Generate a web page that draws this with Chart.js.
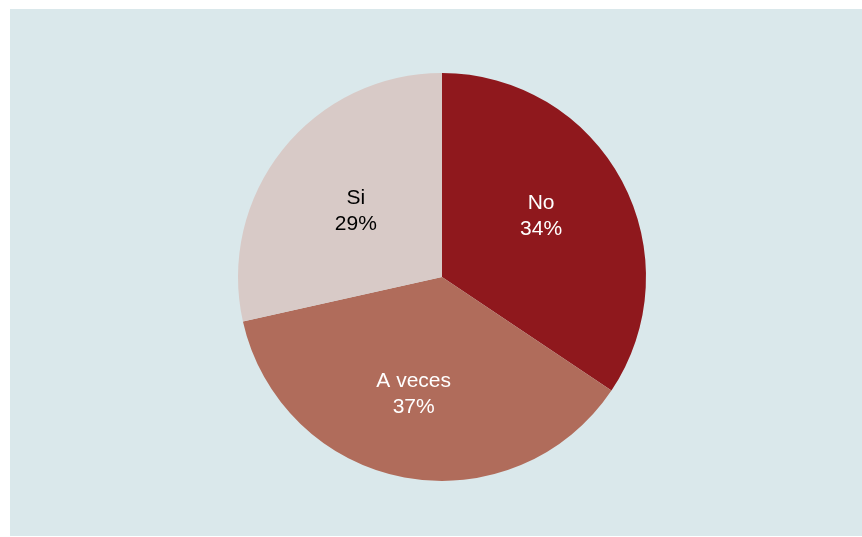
<!DOCTYPE html>
<html>
<head>
<meta charset="utf-8">
<script src="https://cdn.jsdelivr.net/npm/chart.js@4"></script>
<style>
  html, body { margin: 0; padding: 0; background: #ffffff; }
  #panel {
    position: absolute;
    left: 10px;
    top: 9px;
    width: 852px;
    height: 527px;
    background: #dae8eb;
  }
</style>
</head>
<body>
<div id="panel"><canvas id="chart"></canvas></div>
<script>
const categories = ['No', 'A veces', 'Si'];
const shares = [34.4, 37.1, 28.5];
const shareLabels = ['34%', '37%', '29%'];

const sliceColors = ['#8f181d', '#b06c5b', '#d8cac7'];
const textColors = ['#ffffff', '#ffffff', '#000000'];
// label placement tweaks per slice (fraction of radius, angle nudge in deg)
const labelRadius = [0.57, 0.59, 0.53];
const labelNudge = [-3.5, 3, -1.5];

// writes "name / pct" inside each slice
const sliceLabels = {
  id: 'sliceLabels',
  afterDatasetsDraw(chart) {
    const ctx = chart.ctx;
    const arcs = chart.getDatasetMeta(0).data;
    ctx.save();
    ctx.font = '21px "Liberation Sans", Arial, sans-serif';
    ctx.textAlign = 'center';
    ctx.textBaseline = 'middle';
    arcs.forEach((arc, i) => {
      const p = arc.getProps(['x', 'y', 'startAngle', 'endAngle', 'outerRadius']);
      const mid = (p.startAngle + p.endAngle) / 2 + labelNudge[i] * Math.PI / 180;
      const r = p.outerRadius * labelRadius[i];
      const cx = p.x + Math.cos(mid) * r;
      const cy = p.y + Math.sin(mid) * r;
      ctx.fillStyle = textColors[i];
      ctx.fillText(categories[i], cx, cy - 13);
      ctx.fillText(shareLabels[i], cx, cy + 13);
    });
    ctx.restore();
  }
};

new Chart(document.getElementById('chart'), {
  type: 'pie',
  data: {
    labels: categories,
    datasets: [{
      data: shares,
      backgroundColor: sliceColors,
      borderWidth: 0,
    }],
  },
  options: {
    responsive: true,
    maintainAspectRatio: false,
    animation: false,
    layout: {
      padding: { top: 64, bottom: 55, left: 228, right: 216 },
    },
    plugins: {
      legend: { display: false },
      tooltip: { enabled: false },
    },
  },
  plugins: [sliceLabels],
});
</script>
</body>
</html>
